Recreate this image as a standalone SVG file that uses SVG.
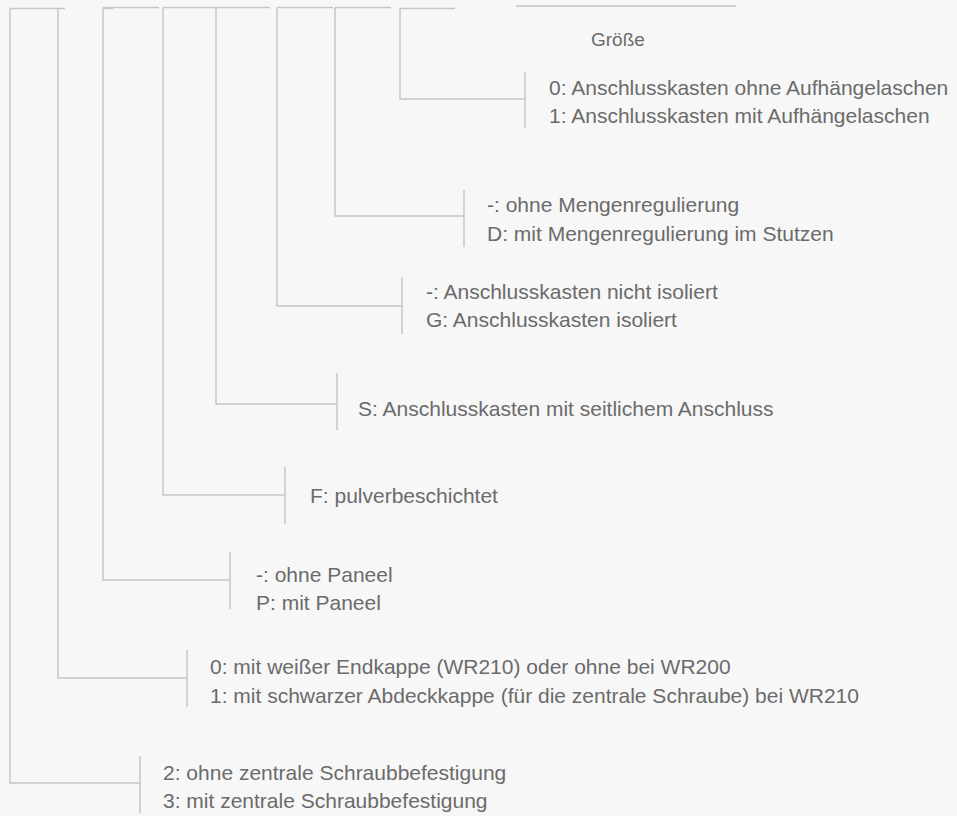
<svg xmlns="http://www.w3.org/2000/svg" width="957" height="816" viewBox="0 0 957 816">
<style>
.ln{fill:none;stroke:#c6c6c6;stroke-width:1.5}
.t{font-family:"Liberation Sans",Arial,sans-serif;font-size:21px;fill:#6b6b6b}
.h{font-family:"Liberation Sans",Arial,sans-serif;font-size:19px;fill:#6b6b6b}
</style>
<rect width="957" height="816" fill="#f7f7f7"/>
<g id="code-bar">
<path class="ln" d="M10 8.5H65M103 8.5H113M103 7.5H159M163 7.5H270M277 7.5H333M335 7.5H391M400 8.5H455M516 6H736"/>
</g>
<g id="connectors">
<path class="ln" d="M400 8.5V99H525"/>
<path class="ln" d="M335 7.5V216H464"/>
<path class="ln" d="M277 7.5V306H402"/>
<path class="ln" d="M216 7.5V404H337"/>
<path class="ln" d="M163 7.5V495H285"/>
<path class="ln" d="M103 7.5V580H230"/>
<path class="ln" d="M58 8.5V678H187"/>
<path class="ln" d="M10 8.5V783H140"/>
</g>
<g id="groesse"><text class="h" x="591" y="46">Größe</text></g>
<g id="node-aufhaengelaschen">
<path class="ln" d="M525 72V128"/>
<text class="t" x="549" y="95">0: Anschlusskasten ohne Aufhängelaschen</text>
<text class="t" x="549" y="123">1: Anschlusskasten mit Aufhängelaschen</text>
</g>
<g id="node-mengenregulierung">
<path class="ln" d="M464 190V247"/>
<text class="t" x="487" y="212">-: ohne Mengenregulierung</text>
<text class="t" x="487" y="241">D: mit Mengenregulierung im Stutzen</text>
</g>
<g id="node-isolierung">
<path class="ln" d="M402 277V334"/>
<text class="t" x="426" y="299">-: Anschlusskasten nicht isoliert</text>
<text class="t" x="426" y="327">G: Anschlusskasten isoliert</text>
</g>
<g id="node-anschluss">
<path class="ln" d="M337 373V430"/>
<text class="t" x="358" y="416">S: Anschlusskasten mit seitlichem Anschluss</text>
</g>
<g id="node-beschichtung">
<path class="ln" d="M285 467V524"/>
<text class="t" x="310" y="503">F: pulverbeschichtet</text>
</g>
<g id="node-paneel">
<path class="ln" d="M230 552V609"/>
<text class="t" x="256" y="582">-: ohne Paneel</text>
<text class="t" x="256" y="610">P: mit Paneel</text>
</g>
<g id="node-kappe">
<path class="ln" d="M187 650V707"/>
<text class="t" x="210" y="674">0: mit weißer Endkappe (WR210) oder ohne bei WR200</text>
<text class="t" x="210" y="703">1: mit schwarzer Abdeckkappe (für die zentrale Schraube) bei WR210</text>
</g>
<g id="node-schraube">
<path class="ln" d="M140 756V813"/>
<text class="t" x="163" y="780">2: ohne zentrale Schraubbefestigung</text>
<text class="t" x="163" y="808">3: mit zentrale Schraubbefestigung</text>
</g>
</svg>
